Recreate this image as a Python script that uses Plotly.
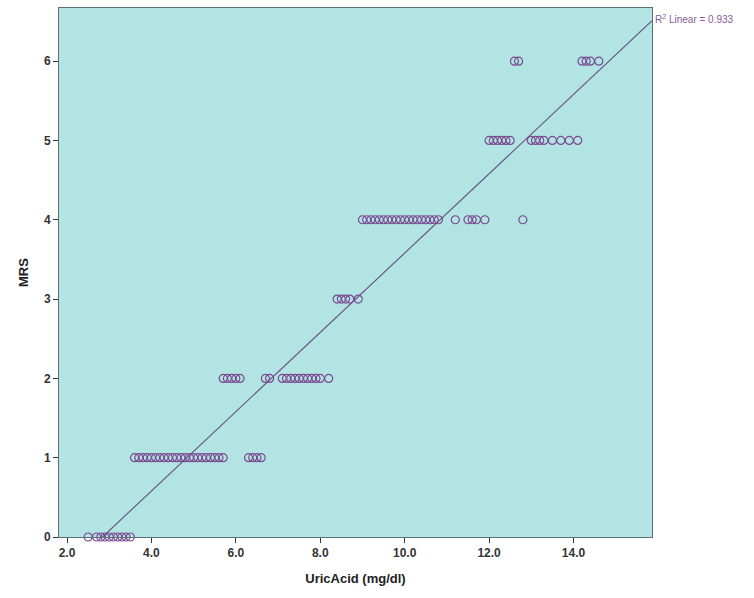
import plotly.graph_objects as go
import numpy as np

# Data
mrs0 = [2.5, 2.7, 2.8, 2.9, 3.0, 3.1, 3.2, 3.3, 3.4, 3.5]
mrs1 = [3.6, 3.7, 3.8, 3.9, 4.0, 4.1, 4.2, 4.3, 4.4, 4.5, 4.6, 4.7, 4.8, 4.9, 5.0, 5.1,
        5.2, 5.3, 5.4, 5.5, 5.6, 5.7,
        6.3, 6.4, 6.5, 6.6]
mrs2 = [5.7, 5.8, 5.9, 6.0, 6.1, 6.7, 6.8, 7.1, 7.2, 7.3, 7.4, 7.5, 7.6, 7.7, 7.8, 7.9,
        8.0, 8.2]
mrs3 = [8.4, 8.5, 8.6, 8.7, 8.9]
mrs4 = [9.0, 9.1, 9.2, 9.3, 9.4, 9.5, 9.6, 9.7, 9.8, 9.9, 10.0, 10.1, 10.2, 10.3, 10.4,
        10.5, 10.6, 10.7, 10.8,
        11.2, 11.5, 11.6, 11.7, 11.9, 12.8]
mrs5 = [12.0, 12.1, 12.2, 12.3, 12.4, 12.5, 13.0, 13.1, 13.2, 13.3, 13.5, 13.7, 13.9, 14.1]
mrs6 = [12.6, 12.7, 14.2, 14.3, 14.4, 14.6]

rows = [mrs0, mrs1, mrs2, mrs3, mrs4, mrs5, mrs6]
uric = [v for r in rows for v in r]
mrs = [i for i, r in enumerate(rows) for _ in r]

fit_slope = 0.5
fit_intercept = -1.42
r2_label = "R<sup>2</sup> Linear = 0.933"

x_range = [1.81, 15.86]
y_range = [0, 6.67]
x_ticks = [2, 4, 6, 8, 10, 12, 14]
y_ticks = [0, 1, 2, 3, 4, 5, 6]

fig = go.Figure()
fx = np.array(x_range)
fig.add_trace(go.Scatter(x=fx, y=fit_slope * fx + fit_intercept, mode="lines",
                         line=dict(color="#6b5688", width=1.2), hoverinfo="skip",
                         showlegend=False))
fig.add_trace(go.Scatter(x=uric, y=mrs, mode="markers", cliponaxis=False,
                         marker=dict(symbol="circle-open", size=8,
                                     line=dict(color="#7a4a90", width=1.2),
                                     color="#7a4a90"),
                         showlegend=False))

fig.add_annotation(x=1, y=6.53, xref="paper", yref="y",
                   xanchor="left", yanchor="middle", text=r2_label, showarrow=False,
                   xshift=1, font=dict(family="Liberation Sans, Arial", size=10, color="#8a5a9a"))

fig.update_layout(
    width=754, height=598,
    margin=dict(l=59, r=102, t=8, b=61),
    paper_bgcolor="white", plot_bgcolor="#b3e4e4",
    font=dict(family="Liberation Sans, Arial", size=11, color="#333333"),
    xaxis=dict(range=x_range, tickvals=x_ticks, tickformat=".1f", showgrid=False,
               zeroline=False, showline=True, mirror=True, linecolor="#5b6f78",
               linewidth=1, ticks="outside", ticklen=5, tickcolor="#333333",
               tickfont=dict(family="Liberation Sans, Arial", size=12, color="#333333", weight="bold"),
               title=dict(text="<b>UricAcid (mg/dl)</b>", standoff=14,
                          font=dict(family="Liberation Sans, Arial", size=13, color="#222222"))),
    yaxis=dict(range=y_range, tickvals=y_ticks, showgrid=False, zeroline=False,
               showline=True, mirror=True, linecolor="#5b6f78", linewidth=1,
               ticks="outside", ticklen=5, tickcolor="#333333",
               tickfont=dict(family="Liberation Sans, Arial", size=12, color="#333333", weight="bold"),
               title=dict(text="<b>MRS</b>", standoff=12,
                          font=dict(family="Liberation Sans, Arial", size=13, color="#222222"))),
)

fig.write_html("out.html")
